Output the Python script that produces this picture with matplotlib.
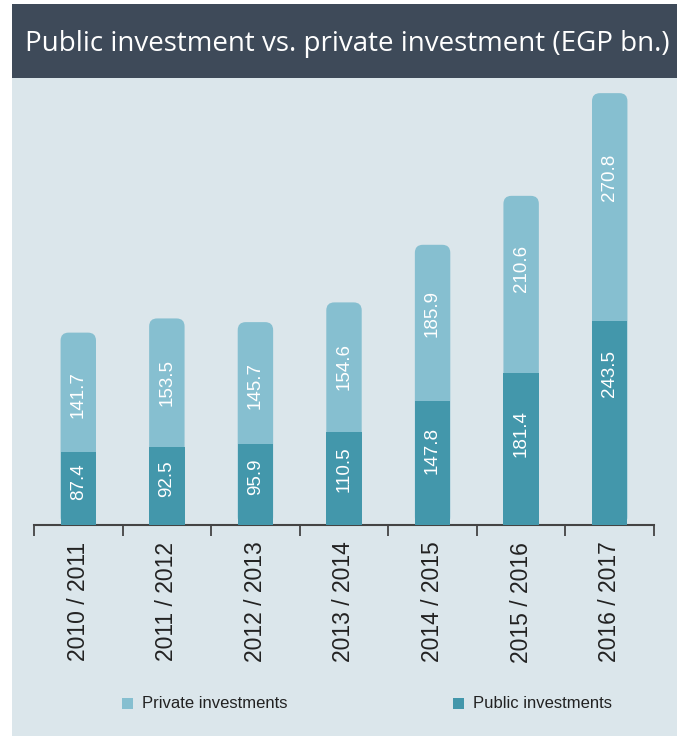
import matplotlib
matplotlib.use("Agg")
import matplotlib.pyplot as plt
from matplotlib.patches import FancyBboxPatch, Rectangle

# Fiscal years and investment values (EGP bn.)
years = ["2010 / 2011", "2011 / 2012", "2012 / 2013", "2013 / 2014",
         "2014 / 2015", "2015 / 2016", "2016 / 2017"]
public = [87.4, 92.5, 95.9, 110.5, 147.8, 181.4, 243.5]
private = [141.7, 153.5, 145.7, 154.6, 185.9, 210.6, 270.8]

# Where each value label sits inside its segment (fraction of segment height)
public_label_frac = [0.59, 0.60, 0.60, 0.60, 0.60, 0.60, 0.74]
private_label_frac = [0.48, 0.50, 0.48, 0.51, 0.56, 0.59, 0.63]

PRIVATE_COLOR = "#86bfd0"
PUBLIC_COLOR = "#4397ab"
PANEL_COLOR = "#dbe6eb"
HEADER_COLOR = "#3e4a59"
TEXT_DARK = "#222222"

W, H = 677, 736
fig = plt.figure(figsize=(W / 100, H / 100), dpi=100, facecolor="white")

# Light panel and dark header band
fig.patches.append(Rectangle((12 / W, 0), 1 - 12 / W, 1 - 78 / H,
                             transform=fig.transFigure, facecolor=PANEL_COLOR,
                             edgecolor="none", zorder=-2))
fig.patches.append(Rectangle((12 / W, 1 - 78 / H), 1 - 12 / W, 74 / H,
                             transform=fig.transFigure, facecolor=HEADER_COLOR,
                             edgecolor="none", zorder=-2))
fig.text(25 / W, 1 - 44 / H, "Public investment vs. private investment (EGP bn.)",
         color="white", fontsize=20, family="Open Sans",
         ha="left", va="center")

ax_left, ax_right = 34, 654
ax_bottom, ax_top = 525, 85
ax = fig.add_axes([ax_left / W, 1 - ax_bottom / H,
                   (ax_right - ax_left) / W, (ax_bottom - ax_top) / H])
ax.set_zorder(2)
ax.set_facecolor("none")

ymax = 524
ax.set_xlim(-0.5, len(years) - 0.5)
ax.set_ylim(0, ymax)

bar_w = 0.40
# pixel size of one data unit in x and y, used for rounded tops
px_x = (ax_right - ax_left) / len(years)
px_y = (ax_bottom - ax_top) / ymax
radius_px = 8
r_x = radius_px / px_x
aspect = (radius_px / px_y) / r_x

label_font = dict(family="Liberation Sans", fontsize=13.5, color="white",
                  rotation=90, ha="center", va="center")

for i, (pu, pr) in enumerate(zip(public, private)):
    total = pu + pr
    top_box = FancyBboxPatch((i - bar_w / 2, 0), bar_w, total,
                             boxstyle=f"round,pad=0,rounding_size={r_x}",
                             mutation_aspect=aspect,
                             facecolor=PRIVATE_COLOR, edgecolor="none", zorder=2)
    ax.add_patch(top_box)
    ax.bar(i, pu, width=bar_w, color=PUBLIC_COLOR, zorder=3)
    ax.text(i, pu * public_label_frac[i], f"{pu:.1f}", zorder=4, **label_font)
    ax.text(i, pu + pr * private_label_frac[i], f"{pr:.1f}", zorder=4, **label_font)

# Axis styling
for side in ["top", "left", "right"]:
    ax.spines[side].set_visible(False)
ax.spines["bottom"].set_color("#444444")
ax.spines["bottom"].set_linewidth(1.5)
ax.set_yticks([])
ax.set_xticks(range(len(years)))
ax.set_xticklabels(years, rotation=90, family="Liberation Sans",
                   fontsize=16.5, color=TEXT_DARK, va="top", ha="center")
ax.tick_params(axis="x", which="major", length=0, pad=12)
ax.set_xticks([k - 0.5 for k in range(len(years) + 1)], minor=True)
ax.tick_params(axis="x", which="minor", length=8, width=1.3, color="#444444",
               direction="out")

# Legend drawn as markers with labels
legend_y = 1 - 703 / H
for x0, color, label in [(122, PRIVATE_COLOR, "Private investments"),
                         (453, PUBLIC_COLOR, "Public investments")]:
    fig.patches.append(Rectangle((x0 / W, legend_y - 5.5 / H), 11 / W, 11 / H,
                                 transform=fig.transFigure, facecolor=color,
                                 edgecolor="none", zorder=-1))
    fig.text((x0 + 20) / W, legend_y, label, family="Liberation Sans",
             fontsize=12, color=TEXT_DARK, ha="left", va="center")

fig.savefig("out.png", dpi=100, facecolor=fig.get_facecolor())
